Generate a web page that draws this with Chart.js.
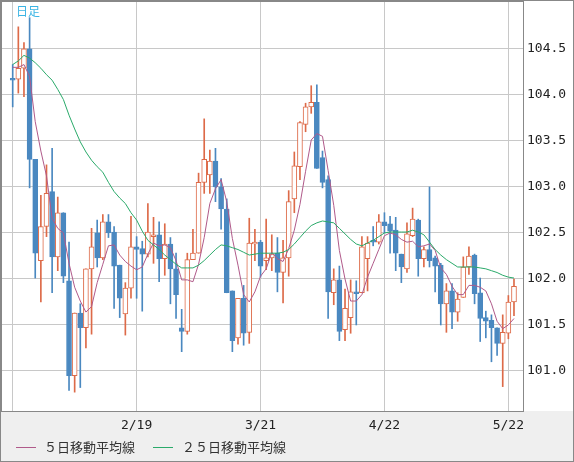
<!DOCTYPE html>
<html>
<head>
<meta charset="utf-8">
<script src="https://cdn.jsdelivr.net/npm/chart.js@4"></script>
<style>
  body { margin: 0; background: #fff; }
  #wrap { width: 574px; height: 462px; position: relative; }
</style>
</head>
<body>
<div id="wrap"><canvas id="c" width="574" height="462"></canvas></div>
<script>
// Data
const opens  = [104.18,104.17,104.29,104.50,103.30,102.20,102.57,102.95,102.24,102.72,101.98,100.95,101.63,101.47,102.11,102.50,102.23,102.62,102.51,102.15,101.62,101.90,102.35,102.33,102.27,102.46,102.48,102.22,102.38,102.11,101.47,101.43,102.21,102.28,103.05,103.13,103.28,103.00,102.76,101.87,101.36,101.79,101.42,102.38,102.40,102.20,102.23,102.28,102.07,102.23,102.87,103.22,103.68,103.87,103.92,103.32,103.08,101.85,101.99,101.45,101.58,101.86,101.85,102.22,102.42,102.40,102.62,102.60,102.53,102.27,102.11,102.47,102.64,102.22,102.32,102.23,102.15,101.73,101.87,101.64,101.80,102.13,102.26,101.85,101.58,101.55,101.47,101.30,101.41,101.75];
const highs  = [104.33,104.74,104.57,104.84,103.30,102.91,103.24,103.42,102.89,102.72,102.40,101.63,101.73,102.11,102.55,102.64,102.70,102.70,102.57,102.15,101.96,102.68,102.46,102.41,102.82,102.67,102.62,102.60,102.45,102.28,101.67,102.28,102.54,103.15,103.74,103.40,103.42,103.09,102.87,101.87,101.79,101.93,102.66,102.54,102.42,102.65,102.48,102.45,102.42,102.96,103.38,103.71,103.91,104.10,104.11,103.39,103.12,102.11,102.14,101.89,101.99,101.98,102.46,102.46,102.57,102.70,102.72,102.68,102.67,102.27,102.61,102.77,102.65,102.35,103.00,102.25,102.17,101.95,101.95,101.85,102.24,102.35,102.27,102.01,101.65,101.61,101.47,101.61,101.82,102.00];
const lows   = [103.87,104.02,103.98,102.99,102.01,101.75,102.46,101.85,102.09,101.96,100.79,100.77,100.82,101.25,101.40,102.13,102.21,102.45,101.68,101.58,101.39,101.79,101.79,101.65,102.24,102.17,101.97,102.04,101.73,101.57,101.21,101.40,102.21,102.28,102.93,102.93,102.84,102.54,101.85,101.21,101.29,101.28,101.30,102.20,102.02,102.10,102.09,101.86,101.74,102.03,102.72,103.08,103.60,103.80,103.20,102.99,101.57,101.72,101.33,101.33,101.41,101.50,101.85,101.87,102.36,102.38,102.50,102.28,102.09,101.96,102.07,102.46,102.03,102.13,102.13,101.86,101.50,101.42,101.46,101.54,101.80,102.05,101.73,101.32,101.36,101.10,101.17,100.83,101.35,101.60];
const closes = [104.16,104.29,104.50,103.30,102.28,102.57,102.93,102.24,102.72,102.03,100.95,101.63,101.47,102.11,102.35,102.23,102.62,102.50,102.14,101.79,101.90,102.35,102.32,102.27,102.51,102.48,102.22,102.38,102.11,101.83,101.43,102.21,102.28,103.05,103.30,103.28,103.00,102.76,101.85,101.33,101.79,101.41,102.39,102.40,102.14,102.23,102.27,102.07,102.23,102.84,103.23,103.70,103.87,103.92,103.20,103.05,101.86,101.99,101.43,101.68,101.86,101.84,102.35,102.39,102.40,102.62,102.58,102.52,102.28,102.13,102.49,102.65,102.22,102.32,102.20,102.14,101.73,101.87,101.64,101.78,102.13,102.25,101.84,101.57,101.54,101.47,101.30,101.42,101.75,101.92];
const ma5    = [104.30,104.30,104.33,104.20,103.71,103.39,103.12,102.66,102.55,102.50,102.17,101.91,101.76,101.64,101.70,101.96,102.16,102.36,102.37,102.26,102.19,102.14,102.10,102.13,102.27,102.39,102.36,102.37,102.34,102.20,101.99,101.99,101.97,102.16,102.45,102.82,102.98,103.08,102.84,102.44,102.15,101.83,101.75,101.86,102.03,102.11,102.29,102.22,102.19,102.33,102.53,102.81,103.17,103.51,103.58,103.55,103.18,102.80,102.31,102.00,101.76,101.76,101.83,102.02,102.17,102.32,102.47,102.50,102.48,102.43,102.40,102.41,102.35,102.36,102.38,102.31,102.12,102.05,101.92,101.83,101.83,101.93,101.93,101.91,101.87,101.73,101.54,101.46,101.50,101.57];
const ma25   = [104.33,104.37,104.43,104.40,104.35,104.29,104.22,104.16,104.06,103.95,103.78,103.63,103.49,103.38,103.29,103.22,103.16,103.05,102.95,102.88,102.82,102.72,102.64,102.52,102.42,102.37,102.32,102.26,102.21,102.16,102.12,102.12,102.12,102.15,102.20,102.26,102.32,102.37,102.36,102.34,102.32,102.29,102.26,102.27,102.28,102.28,102.28,102.28,102.29,102.32,102.38,102.45,102.52,102.58,102.61,102.63,102.62,102.61,102.55,102.49,102.43,102.38,102.36,102.39,102.42,102.46,102.50,102.51,102.51,102.51,102.51,102.53,102.51,102.48,102.40,102.32,102.26,102.21,102.17,102.13,102.13,102.13,102.13,102.12,102.11,102.09,102.07,102.04,102.02,102.01];
const tickIdx = [0, 22, 44, 66, 88];
const tickLabels = ['', '2/19', '3/21', '4/22', '5/22'];
const yTicks = [101, 101.5, 102, 102.5, 103, 103.5, 104, 104.5];

const RED = '#dd6a48', BLUE = '#4a88c0';
const up = closes.map((c, i) => c >= opens[i]);
const candleCol = up.map(u => u ? RED : BLUE);

const wicks = lows.map((l, i) => ({ x: i, y: [l, highs[i]] }));
const bodies = opens.map((o, i) => {
  let lo = Math.min(o, closes[i]), hi = Math.max(o, closes[i]);
  if (hi - lo < 0.02) hi = lo + 0.02;
  return { x: i, y: [lo, hi] };
});

const frame = {
  id: 'frame',
  beforeDraw(chart) {
    const { ctx, chartArea: a } = chart;
    ctx.save();
    ctx.fillStyle = '#fff';
    ctx.fillRect(0, 0, 574, 462);
    ctx.fillStyle = '#efefef';
    ctx.fillRect(0, a.bottom, 574, 462 - a.bottom);
    ctx.restore();
  },
  afterDraw(chart) {
    const { ctx, chartArea: a } = chart;
    ctx.save();
    ctx.strokeStyle = '#888';
    ctx.lineWidth = 1;
    ctx.strokeRect(a.left - 0.5, a.top - 0.5, a.right - a.left + 1, a.bottom - a.top + 1);
    ctx.strokeRect(0.5, 0.5, 573, 461);
    ctx.fillStyle = '#3ab4e4';
    ctx.font = '12px "Noto Sans CJK JP"';
    ctx.textBaseline = 'middle';
    ctx.fillText('日足', 16, 11);
    ctx.fillStyle = '#333';
    ctx.font = '13px "Noto Sans CJK JP"';
    ctx.fillText('５日移動平均線', 44, 447);
    ctx.fillText('２５日移動平均線', 182, 447);
    ctx.strokeStyle = '#b05a8a';
    ctx.beginPath(); ctx.moveTo(16, 447.5); ctx.lineTo(36, 447.5); ctx.stroke();
    ctx.strokeStyle = '#2aaa6a';
    ctx.beginPath(); ctx.moveTo(153, 447.5); ctx.lineTo(173, 447.5); ctx.stroke();
    ctx.restore();
  }
};

function noPad(s) {
  s.paddingTop = 0; s.paddingBottom = 0; s.paddingLeft = 0; s.paddingRight = 0;
}

new Chart(document.getElementById('c'), {
  data: {
    datasets: [
      { type: 'bar', data: wicks, backgroundColor: candleCol, barThickness: 1, order: 3 },
      { type: 'bar', data: bodies, backgroundColor: up.map(u => u ? '#fff' : BLUE),
        borderColor: candleCol, borderWidth: 1, borderSkipped: false, barThickness: 5, order: 2 },
      { type: 'line', data: ma5.map((v, i) => ({ x: i, y: v })), borderColor: '#b05a8a',
        borderWidth: 1, pointRadius: 0, tension: 0, order: 1 },
      { type: 'line', data: ma25.map((v, i) => ({ x: i, y: v })), borderColor: '#2aaa6a',
        borderWidth: 1, pointRadius: 0, tension: 0, order: 0 }
    ]
  },
  options: {
    responsive: false,
    animation: false,
    datasets: { bar: { grouped: false } },
    layout: { padding: { left: 2, top: 2, right: 0, bottom: 0 } },
    plugins: { legend: { display: false }, tooltip: { enabled: false } },
    scales: {
      x: {
        type: 'linear', min: -1.9, max: 90.6, offset: false,
        afterBuildTicks: s => { s.ticks = tickIdx.map(v => ({ value: v })); },
        afterFit: s => { s.height = 51; noPad(s); },
        ticks: {
          callback: (v) => tickLabels[tickIdx.indexOf(v)],
          maxRotation: 0, autoSkip: false, padding: 7,
          color: '#222', font: { family: 'DejaVu Sans Mono', size: 13 }
        },
        grid: { color: '#c8c8c8', drawTicks: false, offset: false },
        border: { display: false }
      },
      y: {
        position: 'right', min: 100.565, max: 105.01,
        afterBuildTicks: s => { s.ticks = yTicks.map(v => ({ value: v })); },
        afterFit: s => { s.width = 51; noPad(s); },
        ticks: { color: '#222', padding: 4, font: { family: 'DejaVu Sans Mono', size: 13 } },
        grid: { color: '#c8c8c8', drawTicks: false },
        border: { display: false }
      }
    }
  },
  plugins: [frame]
});
</script>
</body>
</html>
